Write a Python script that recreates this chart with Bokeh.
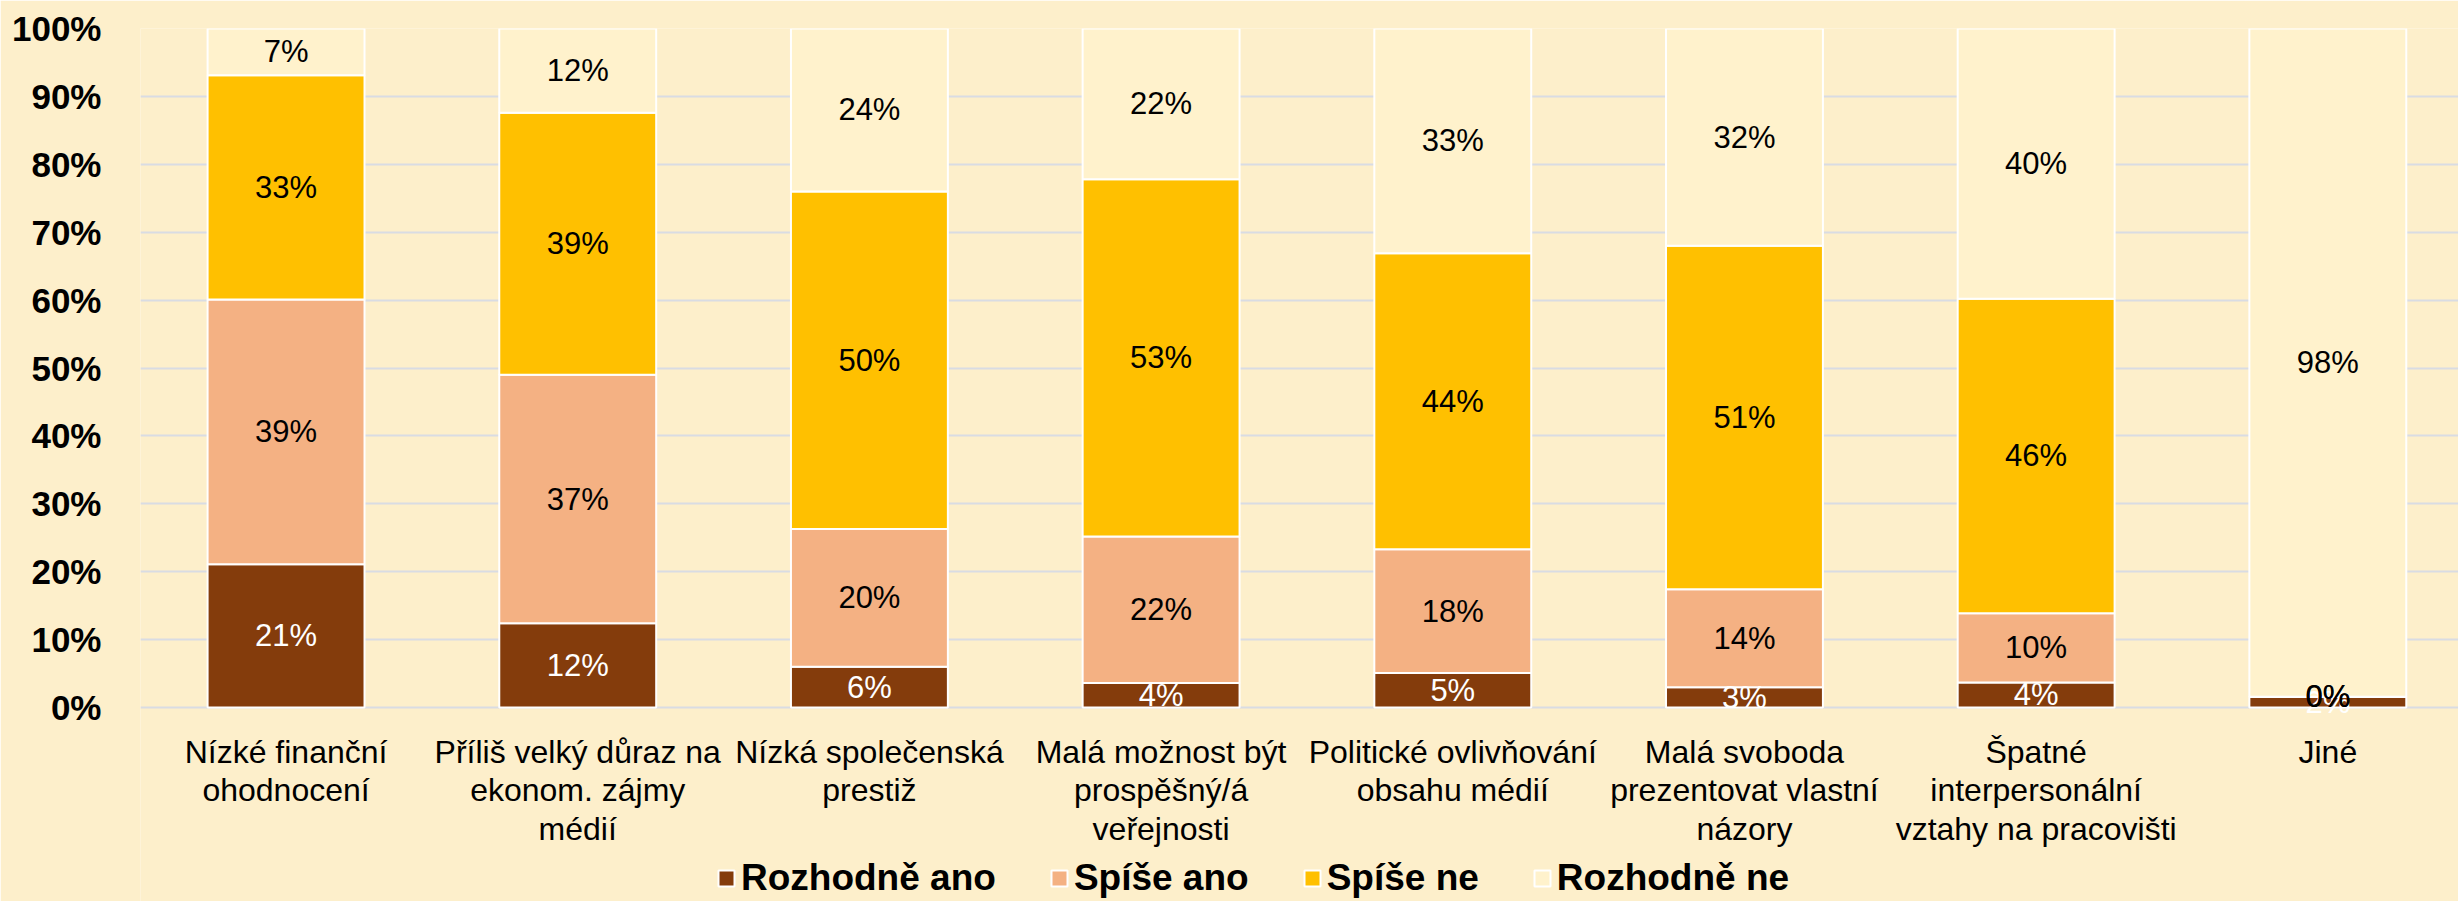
from bokeh.plotting import figure
from bokeh.models import Legend, LegendItem, FixedTicker, Range1d, ColumnDataSource
from bokeh.core.properties import value
from bokeh.embed import file_html
from bokeh.resources import INLINE

categories = [
    "Nízké finanční\nohodnocení",
    "Příliš velký důraz na\nekonom. zájmy\nmédií",
    "Nízká společenská\nprestiž",
    "Malá možnost být\nprospěšný/á\nveřejnosti",
    "Politické ovlivňování\nobsahu médií",
    "Malá svoboda\nprezentovat vlastní\nnázory",
    "Špatné\ninterpersonální\nvztahy na pracovišti",
    "Jiné",
]
series_names = ["Rozhodně ano", "Spíše ano", "Spíše ne", "Rozhodně ne"]
rozhodne_ano = [21.1, 12.4, 6.0, 3.6, 5.1, 3.0, 3.7, 1.6]
spise_ano = [39.0, 36.6, 20.3, 21.6, 18.2, 14.4, 10.2, 0.0]
spise_ne = [33.0, 38.6, 49.7, 52.6, 43.6, 50.6, 46.3, 0.0]
rozhodne_ne = [6.9, 12.4, 24.0, 22.2, 33.1, 32.0, 39.8, 98.4]
y_ticks = [0, 10, 20, 30, 40, 50, 60, 70, 80, 90, 100]

colors = ["#843C0C", "#F4B183", "#FFC000", "#FFF2CC"]
label_colors = ["white", "black", "black", "black"]
BG = "#FDEFCB"
FONT = "Liberation Sans"

xs = list(range(len(categories)))
series = [rozhodne_ano, spise_ano, spise_ne, rozhodne_ne]
keys = ["s0", "s1", "s2", "s3"]
data = {"x": xs}
for k, s in zip(keys, series):
    data[k] = s
src = ColumnDataSource(data)

# frame spans the full height below the top border; the category axis is pinned at y=0
p = figure(width=2458, height=901, output_backend="svg", toolbar_location=None,
           x_range=Range1d(-0.499, 7.448), y_range=Range1d(-28.57, 100),
           min_border_left=140, min_border_right=0, min_border_top=28,
           min_border_bottom=0)
p.background_fill_color = BG
p.border_fill_color = BG
p.outline_line_color = None

renderers = p.vbar_stack(keys, x="x", width=0.538, source=src, color=colors,
                         line_color="white", line_width=2)

# labels
lx, ly, lt, lc = [], [], [], []
for i in xs:
    bottom = 0.0
    for j, s in enumerate(series):
        v = s[i]
        lx.append(i)
        ly.append(bottom + v / 2)
        lt.append(f"{v:.0f}%")
        lc.append(label_colors[j])
        bottom += v
lsrc = ColumnDataSource(dict(x=lx, y=ly, t=lt, c=lc))
p.text(x="x", y="y", text="t", source=lsrc, text_color="c",
       text_font=value(FONT), text_font_size="31px",
       text_align="center", text_baseline="middle")

# axes
p.xaxis.fixed_location = 0
p.xaxis.ticker = FixedTicker(ticks=xs)
p.xaxis.major_label_overrides = {i: c for i, c in enumerate(categories)}
p.xaxis.major_label_text_font = FONT
p.xaxis.major_label_text_font_size = "32px"
p.xaxis.major_label_text_line_height = 1.08
p.xaxis.major_label_text_color = "black"
p.xaxis.major_label_standoff = 20
p.xaxis.axis_line_color = None
p.xaxis.major_tick_line_color = None
p.xaxis.minor_tick_line_color = None

p.yaxis.ticker = FixedTicker(ticks=y_ticks)
p.yaxis.major_label_overrides = {t: f"{t}%" for t in y_ticks}
p.yaxis.major_label_text_font = FONT
p.yaxis.major_label_text_font_style = "bold"
p.yaxis.major_label_text_font_size = "35px"
p.yaxis.major_label_text_color = "black"
p.yaxis.major_label_standoff = 33
p.yaxis.axis_line_color = None
p.yaxis.major_tick_line_color = None
p.yaxis.minor_tick_line_color = None

p.xgrid.grid_line_color = None
p.ygrid.grid_line_color = "#D9DCE3"
p.ygrid.grid_line_width = 2

legend = Legend(items=[LegendItem(label=n, renderers=[r]) for n, r in zip(series_names, renderers)],
                orientation="horizontal", location=(576, 2),
                label_text_font=FONT, label_text_font_style="bold",
                label_text_font_size="37px", label_text_color="black",
                glyph_width=20, glyph_height=20, label_standoff=5, spacing=53,
                padding=0, margin=0, background_fill_alpha=0, border_line_color=None)
p.add_layout(legend, "center")

open("out.html", "w").write(file_html(p, INLINE))
